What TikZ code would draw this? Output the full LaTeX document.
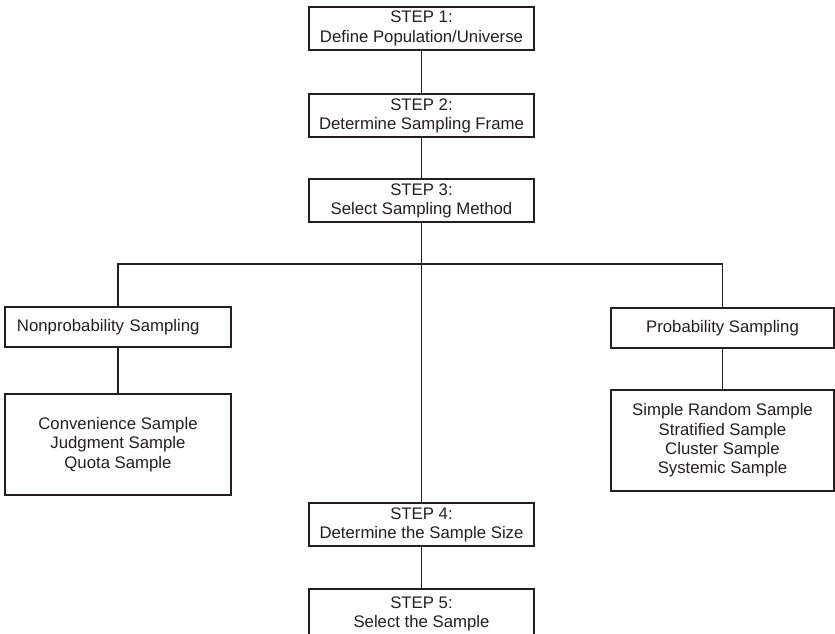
\documentclass[tikz,border=0pt]{standalone}
\usepackage{fontspec}
\setmainfont{Liberation Sans}
\usepackage{tikz}
\definecolor{ink}{HTML}{231F20}
\newcommand{\boxfont}{\fontsize{14.3pt}{16.4pt}\selectfont}

\begin{document}
\begin{tikzpicture}[x=0.03cm,y=-0.03cm,
  box/.style={draw=ink,line width=1.6pt,text=ink,font=\boxfont,align=center,inner sep=0pt},
  stepbox/.style={box,minimum width=6.75cm,minimum height=1.29cm},
  link/.style={draw=ink,line width=1.4pt}]
 \useasboundingbox (0,0) rectangle (835,633);
 \clip (0,0) rectangle (835,633);
 % the five steps
 \node[stepbox] (s1) at (421.5,28.3) {STEP 1:\\Define Population/Universe};
 \node[stepbox] (s2) at (421.5,115.5) {STEP 2:\\Determine Sampling Frame};
 \node[stepbox] (s3) at (421.5,200.6) {STEP 3:\\Select Sampling Method};
 \node[stepbox] (s4) at (421.5,524.8) {STEP 4:\\Determine the Sample Size};
 \node[stepbox,minimum height=1.5cm] (s5) at (421.5,614) {STEP 5:\\Select the Sample};
 % the two branches
 \node[box,minimum height=1.2cm,text width=6.06cm,align=left,inner xsep=0.36cm] (nonprob) at (118,327) {Nonprobability Sampling};
 \node[box,minimum width=6.78cm,minimum height=3.03cm] (nonlist) at (118,444.5)
   {Convenience Sample\\Judgment Sample\\Quota Sample};
 \node[box,minimum width=6.69cm,minimum height=1.21cm] (prob) at (722.5,328) {Probability Sampling};
 \node[box,minimum width=6.69cm,minimum height=3.02cm] (problist) at (722.5,440.3)
   {Simple Random Sample\\Stratified Sample\\Cluster Sample\\Systemic Sample};
 \coordinate (split) at (421.5,264);
 % connectors
 \draw[link] (s1) -- (s2);
 \draw[link] (s2) -- (s3);
 \draw[link] (s3) -- (s4);
 \draw[link] (s4) -- (s5);
 \draw[link] (nonprob.north) |- (split) -| (prob.north);
 \draw[link] (nonprob) -- (nonlist);
 \draw[link] (prob) -- (problist);
\end{tikzpicture}
\end{document}
